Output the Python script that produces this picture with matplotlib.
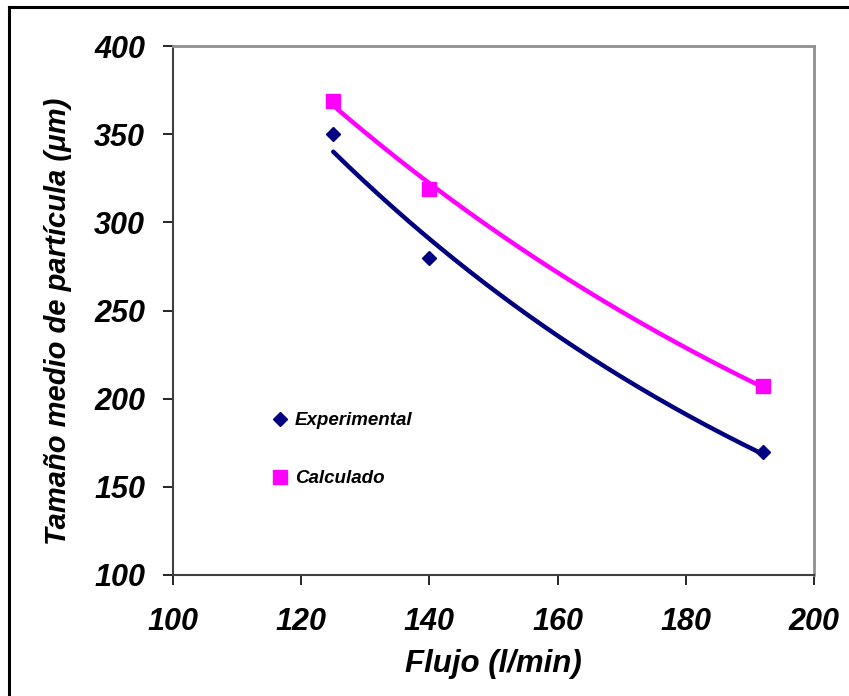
import numpy as np
import matplotlib
matplotlib.use("Agg")
import matplotlib.pyplot as plt
from matplotlib.lines import Line2D

flujo = [125, 140, 192]
experimental = [350, 280, 170]
calculado = [369, 319, 207]
x_ticks = [100, 120, 140, 160, 180, 200]
y_ticks = [100, 150, 200, 250, 300, 350, 400]

plt.rcParams['font.family'] = ['Liberation Sans', 'DejaVu Sans']

fig = plt.figure(figsize=(8.49, 6.96), dpi=100)
ax = fig.add_axes([173/849, 1-575/696, (814-173)/849, (575-46)/696])

def exp_trend(x, y):
    b, a = np.polyfit(np.array(x, float), np.log(np.array(y, float)), 1)
    xs = np.linspace(min(x), max(x), 200)
    return xs, np.exp(a + b*xs)

navy = '#000080'
mag = '#FF00FF'

xs, ys = exp_trend(flujo, experimental)
ax.plot(xs, ys, color=navy, lw=3.2, solid_capstyle='round', zorder=2)
xs, ys = exp_trend(flujo, calculado)
ax.plot(xs, ys, color=mag, lw=3.2, solid_capstyle='round', zorder=2)

ax.plot(flujo, experimental, linestyle='none', marker='D', ms=7.5, color=navy,
        label='Experimental', zorder=3)
ax.plot(flujo, calculado, linestyle='none', marker='s', ms=10.5, color=mag,
        label='Calculado', zorder=3)

ax.set_xlim(100, 200)
ax.set_ylim(100, 400)
ax.set_xticks(x_ticks)
ax.set_yticks(y_ticks)
ax.tick_params(direction='out', length=7, width=1.2, color='black')
ax.tick_params(axis='x', pad=16)
ax.tick_params(axis='y', pad=13)
for lab in ax.get_xticklabels() + ax.get_yticklabels():
    lab.set_fontsize(22)
    lab.set_fontweight('bold')
    lab.set_fontstyle('italic')

for side in ['left', 'bottom']:
    ax.spines[side].set_color('#404040')
    ax.spines[side].set_linewidth(1.5)
for side in ['top', 'right']:
    ax.spines[side].set_color('#909090')
    ax.spines[side].set_linewidth(2)

ax.set_xlabel('Flujo (l/min)', fontsize=22.5, fontweight='bold', fontstyle='italic', labelpad=9)
ax.set_ylabel('Tamaño medio de partícula (μm)', fontsize=21, fontweight='bold',
              fontstyle='italic', labelpad=16, y=0.48)

leg = ax.legend(loc='upper left', bbox_to_anchor=(0.135, 0.333), frameon=False,
                prop={'size': 13.5, 'weight': 'bold', 'style': 'italic'},
                handlelength=0.8, handletextpad=0.4, labelspacing=2.2,
                borderpad=0.2)

fig.add_artist(Line2D([9/849, 1.0], [1-7/696, 1-7/696], color='black', lw=2.2,
                      transform=fig.transFigure))
fig.add_artist(Line2D([9/849, 9/849], [0.0, 1-7/696], color='black', lw=2.2,
                      transform=fig.transFigure))

fig.savefig('out.png', dpi=100)
